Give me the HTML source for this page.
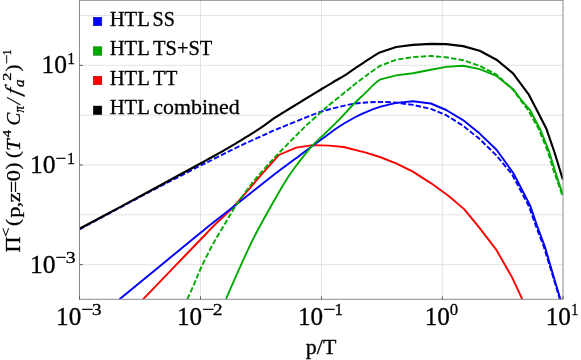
<!DOCTYPE html>
<html><head><meta charset="utf-8"><title>chart</title>
<style>html,body{margin:0;padding:0;background:#fff;}svg{display:block;will-change:transform;}text{font-family:"Liberation Serif",serif;fill:#000;stroke:#000;stroke-width:0.3px;stroke-linejoin:round;}</style></head><body>
<svg width="581" height="360" viewBox="0 0 581 360">
<rect width="581" height="360" fill="#fff"/>
<defs><clipPath id="c"><rect x="79.5" y="0.3" width="483.5" height="299.0"/></clipPath></defs>
<path d="M200.5,0.3V299.3M321.5,0.3V299.3M442.3,0.3V299.3M79.5,15.5H563.0M79.5,65.33H563.0M79.5,115.17H563.0M79.5,165.0H563.0M79.5,214.83H563.0M79.5,264.67H563.0" stroke="#dcdcdc" stroke-width="0.8" fill="none"/>
<g clip-path="url(#c)" fill="none" stroke-linejoin="round">
<path d="M143.0,299.3 C148.2,293.9 163.7,277.8 174.0,267.1 C184.3,256.4 198.2,242.0 205.0,235.0 C211.8,228.0 209.5,230.0 214.6,225.0 C219.7,220.0 227.5,213.2 235.3,204.8 C243.1,196.4 257.0,179.7 261.4,174.7 L278.8,155.0 L296.2,147.6 L312.8,145.1 L329.4,145.6 L343.6,147.0 L365.9,152.6 L379.8,157.0 L396.1,163.3 L412.9,171.6 L430.8,183.1 L448.4,195.7 L464.1,209.1 L478.5,226.6 L496.0,249.3 L512.2,277.6 L522.2,299.2" stroke="#ff0000" stroke-width="1.9"/>
<path d="M119.5,299.3 C125.9,294.0 145.1,278.3 158.0,267.7 C170.9,257.1 188.5,242.6 197.2,235.5 C205.9,228.4 203.8,230.0 210.1,225.0 C216.4,220.0 224.8,213.6 235.3,205.3 C245.8,197.0 262.4,183.7 273.2,175.3 C284.0,167.0 292.1,161.2 300.1,155.2 C308.2,149.2 315.0,144.0 321.5,139.3 C328.0,134.6 333.7,130.3 338.9,126.8 C344.1,123.3 348.2,121.0 352.8,118.5 C357.4,116.0 362.1,113.9 366.7,111.9 C371.3,109.9 375.7,108.2 380.6,106.7 C385.5,105.2 393.5,103.5 396.1,102.9 L412.9,101.2 L430.8,103.5 L446.2,110.0 L463.0,120.1 L479.7,133.6 L496.5,149.7 L513.3,173.0 L530.1,205.4 L537.0,225.6 L545.0,247.0 L553.6,276.5 L560.4,299.2" stroke="#0000ff" stroke-width="1.9"/>
<path d="M79.5,229.3 C86.2,225.7 106.6,214.8 120.0,207.6 C133.4,200.4 150.0,191.6 160.0,186.4 C170.0,181.2 173.0,179.8 180.0,176.2 C187.0,172.6 197.1,167.3 201.9,164.9 C206.7,162.5 205.4,163.2 208.9,161.5 C212.4,159.8 218.2,156.7 222.8,154.4 C227.4,152.1 232.1,149.7 236.7,147.5 C241.3,145.3 246.0,143.1 250.6,141.0 C255.2,138.9 260.3,136.6 264.4,134.8 C268.5,133.0 271.3,131.6 275.0,130.0 C278.7,128.4 281.8,127.2 286.7,125.2 C291.6,123.2 298.9,120.2 304.7,117.9 C310.5,115.6 315.9,113.3 321.7,111.5 C327.5,109.7 334.2,108.2 339.4,106.9 C344.6,105.6 348.2,104.6 352.8,103.9 C357.4,103.2 362.1,102.8 366.7,102.5 C371.3,102.2 375.7,101.9 380.6,101.9 C385.5,101.9 393.5,102.5 396.1,102.6 L412.9,104.9 L430.8,108.9 L446.2,115.2 L463.0,125.7 L479.7,139.1 L496.0,155.0 L511.8,174.0 L528.8,206.0 L535.9,226.0 L543.9,247.0 L553.0,276.5 L559.8,299.2" stroke="#0000ff" stroke-width="1.9" stroke-dasharray="5.4,2.2"/>
<path d="M226.1,298.8 C228.6,293.2 235.8,276.2 240.8,265.3 C245.8,254.4 250.5,244.1 256.1,233.3 C261.7,222.5 269.1,209.5 274.2,200.5 C279.3,191.5 282.8,185.3 286.7,179.2 C290.6,173.0 293.6,169.1 297.8,163.6 C302.0,158.1 307.8,150.8 311.7,146.4 C315.6,142.0 316.9,141.3 321.4,136.9 C325.9,132.5 333.7,125.1 338.9,119.8 C344.1,114.5 348.3,109.6 352.8,105.0 C357.3,100.4 362.5,95.8 365.9,92.4 C369.3,89.1 371.0,87.0 373.3,84.9 C375.6,82.8 378.6,80.6 379.7,79.7 L396.2,75.4 L412.9,73.2 L430.8,69.8 L446.2,66.9 L463.0,65.8 L479.7,69.1 L496.5,75.9 L513.3,89.3 L521.3,100.0 L530.0,110.0 L540.1,129.1 L549.1,151.5 L554.7,170.0 L562.8,194.6" stroke="#00aa00" stroke-width="1.9"/>
<path d="M187.3,299.3 C188.5,296.6 192.2,288.5 194.5,283.2 C196.8,277.9 198.2,273.9 201.2,267.5 C204.2,261.1 208.7,252.0 212.4,245.1 C216.1,238.2 219.8,232.5 223.6,226.1 C227.4,219.7 230.4,213.8 235.3,206.4 C240.2,199.0 247.4,189.1 253.2,181.8 C259.0,174.5 265.6,167.4 270.0,162.5 C274.4,157.6 275.1,157.0 279.7,152.2 C284.3,147.4 293.2,138.4 297.8,133.8 C302.4,129.2 303.0,128.5 307.0,124.8 C311.0,121.1 317.4,115.3 321.7,111.6 C325.9,107.8 327.8,106.2 332.5,102.3 C337.2,98.4 346.4,91.1 350.0,88.2 C353.6,85.3 350.9,87.2 353.9,84.9 C356.9,82.6 363.5,77.7 367.8,74.5 C372.1,71.3 377.7,67.4 379.7,66.0 L396.2,59.7 L412.9,57.1 L430.8,56.0 L446.2,57.3 L463.0,60.2 L479.7,65.8 L496.5,74.7 L513.3,90.0 L520.4,100.0 L528.0,110.0 L538.8,129.1 L547.8,151.5 L553.5,170.0 L562.4,195.5" stroke="#00aa00" stroke-width="1.9" stroke-dasharray="5.4,2.2"/>
<path d="M79.5,228.8 C86.2,225.2 106.6,214.3 120.0,207.1 C133.4,199.9 146.7,192.7 160.0,185.5 C173.3,178.3 191.8,168.1 200.0,163.7 C208.2,159.2 205.1,160.9 208.9,158.8 C212.7,156.7 218.2,153.8 222.8,151.1 C227.4,148.4 232.1,145.7 236.7,142.9 C241.3,140.1 246.0,137.3 250.6,134.4 C255.2,131.5 260.3,128.1 264.4,125.3 C268.5,122.5 271.8,119.9 275.0,117.7 C278.2,115.5 280.1,114.6 283.9,112.2 C287.7,109.8 293.2,106.4 297.8,103.6 C302.4,100.8 307.7,97.5 311.7,95.1 C315.7,92.7 318.2,91.1 321.7,89.0 C325.2,86.9 328.4,85.0 332.5,82.6 C336.6,80.1 342.8,76.5 346.4,74.3 C350.0,72.1 350.3,71.6 353.9,69.2 C357.5,66.8 363.5,62.7 367.8,59.9 C372.1,57.1 377.7,53.6 379.7,52.4 L396.2,47.0 L412.9,44.9 L430.8,43.9 L446.2,44.1 L463.0,46.1 L479.7,50.8 L496.5,59.7 L513.0,73.3 L529.0,94.9 L536.8,110.0 L546.5,129.1 L554.4,152.0 L562.8,179.5" stroke="#000" stroke-width="2.15"/>
</g>
<rect x="79.5" y="0.3" width="483.5" height="299.0" fill="none" stroke="#8a8a8a" stroke-width="1"/>
<path d="M79.5,299.3v-3M200.5,299.3v-3M321.5,299.3v-3M442.3,299.3v-3M563.0,299.3v-3M79.5,65.33h3.2M79.5,165.0h3.2M79.5,264.67h3.2" stroke="#5a5a5a" stroke-width="1" fill="none"/>
<rect x="93.3" y="17.25" width="8.5" height="8.5" fill="#0000ff" stroke="#0000a0" stroke-width="0.5"/>
<text transform="translate(109.71,25.80) scale(1.012,1)" font-size="20.4">HTL</text>
<text transform="translate(152.55,25.80) scale(0.987,1)" font-size="20.4">SS</text>
<rect x="93.3" y="46.75" width="8.5" height="8.5" fill="#00aa00" stroke="#006a00" stroke-width="0.5"/>
<text transform="translate(109.71,55.20) scale(1.012,1)" font-size="20.4">HTL</text>
<text transform="translate(153.03,55.20) scale(1.003,1)" font-size="20.4">TS+ST</text>
<rect x="93.3" y="76.25" width="8.5" height="8.5" fill="#ff0000" stroke="#a00000" stroke-width="0.5"/>
<text transform="translate(109.71,84.70) scale(1.012,1)" font-size="20.4">HTL</text>
<text transform="translate(153.04,84.70) scale(0.975,1)" font-size="20.4">TT</text>
<rect x="93.3" y="106.05" width="8.5" height="8.5" fill="#000" stroke="#000" stroke-width="0.5"/>
<text transform="translate(109.71,113.90) scale(1.012,1)" font-size="20.4">HTL</text>
<text transform="translate(153.36,113.90) scale(1.075,1)" font-size="20.4">combined</text>
<text transform="translate(56.09,324.90) scale(1.019,1)" font-size="24.7">10</text><text transform="translate(81.11,314.90) scale(1.282,1)" font-size="17.1">−</text><text transform="translate(91.88,314.90) scale(1.118,1)" font-size="17.1">3</text>
<text transform="translate(176.99,324.90) scale(1.019,1)" font-size="24.7">10</text><text transform="translate(202.01,314.90) scale(1.282,1)" font-size="17.1">−</text><text transform="translate(212.83,314.90) scale(1.152,1)" font-size="17.1">2</text>
<text transform="translate(297.99,324.90) scale(1.019,1)" font-size="24.7">10</text><text transform="translate(323.01,314.90) scale(1.282,1)" font-size="17.1">−</text><text transform="translate(334.60,314.90) scale(0.997,1)" font-size="17.1">1</text>
<text transform="translate(424.69,324.90) scale(1.019,1)" font-size="24.7">10</text><text transform="translate(449.76,314.90) scale(0.980,1)" font-size="17.1">0</text>
<text transform="translate(545.79,324.90) scale(1.019,1)" font-size="24.7">10</text><text transform="translate(571.15,314.90) scale(0.831,1)" font-size="17.1">1</text>
<text transform="translate(41.46,73.10) scale(1.033,1)" font-size="24.7">10</text><text transform="translate(67.13,63.60) scale(0.914,1)" font-size="17.1">1</text>
<text transform="translate(29.95,173.00) scale(1.038,1)" font-size="24.7">10</text><text transform="translate(55.46,163.50) scale(1.106,1)" font-size="17.1">−</text><text transform="translate(67.00,163.50) scale(0.930,1)" font-size="17.1">1</text>
<text transform="translate(29.95,272.90) scale(1.038,1)" font-size="24.7">10</text><text transform="translate(55.46,263.40) scale(1.106,1)" font-size="17.1">−</text><text transform="translate(65.85,263.40) scale(1.161,1)" font-size="17.1">3</text>
<text transform="translate(305.85,354.20) scale(1.083,1)" font-size="20.3">p/T</text>
<g transform="translate(20.4,251.8) rotate(-90)"><text transform="translate(-0.64,0.00) scale(1.015,1)" font-size="21.8">Π</text><text transform="translate(14.87,-10.00) scale(1.330,1)" font-size="12.6">&lt;</text><text transform="translate(25.88,-1.40) scale(1.073,1)" font-size="19.6">(</text><text transform="translate(33.94,0.00) scale(1.136,1)" font-size="19.6">p</text><text transform="translate(44.58,0.00) scale(1.096,1)" font-size="19.6">,</text><text transform="translate(49.50,0.00) scale(1.141,1)" font-size="19.6">z</text><text transform="translate(58.73,0.00) scale(1.096,1)" font-size="19.6">=</text><text transform="translate(70.65,0.00) scale(1.144,1)" font-size="19.6">0</text><text transform="translate(82.33,-1.40) scale(1.053,1)" font-size="19.6">)</text><text transform="translate(93.89,-1.40) scale(1.053,1)" font-size="19.6">(</text><text transform="translate(100.82,0.00) scale(1.076,1)" font-size="19.6" font-style="italic">T</text><text transform="translate(114.51,-9.70) scale(1.161,1)" font-size="12.6">4</text><text transform="translate(126.23,0.00) scale(0.978,1)" font-size="19.6" font-style="italic">C</text><text transform="translate(139.33,3.80) scale(0.964,1)" font-size="13.6" font-style="italic">π</text><text transform="translate(146.64,0.00) skewX(-13) scale(0.987,1)" font-size="19.6">/</text><text transform="translate(156.11,0.00) skewX(-14) scale(0.948,1)" font-size="21.5" font-style="italic">f</text><text transform="translate(164.75,3.80) scale(1.122,1)" font-size="13.6" font-style="italic">a</text><text transform="translate(171.08,-9.70) scale(1.307,1)" font-size="12.6">2</text><text transform="translate(180.22,-1.40) scale(1.073,1)" font-size="19.6">)</text><text transform="translate(187.47,-9.70) scale(1.330,1)" font-size="12.6">−</text><text transform="translate(196.53,-9.70) scale(0.879,1)" font-size="12.6">1</text></g>
</svg></body></html>
